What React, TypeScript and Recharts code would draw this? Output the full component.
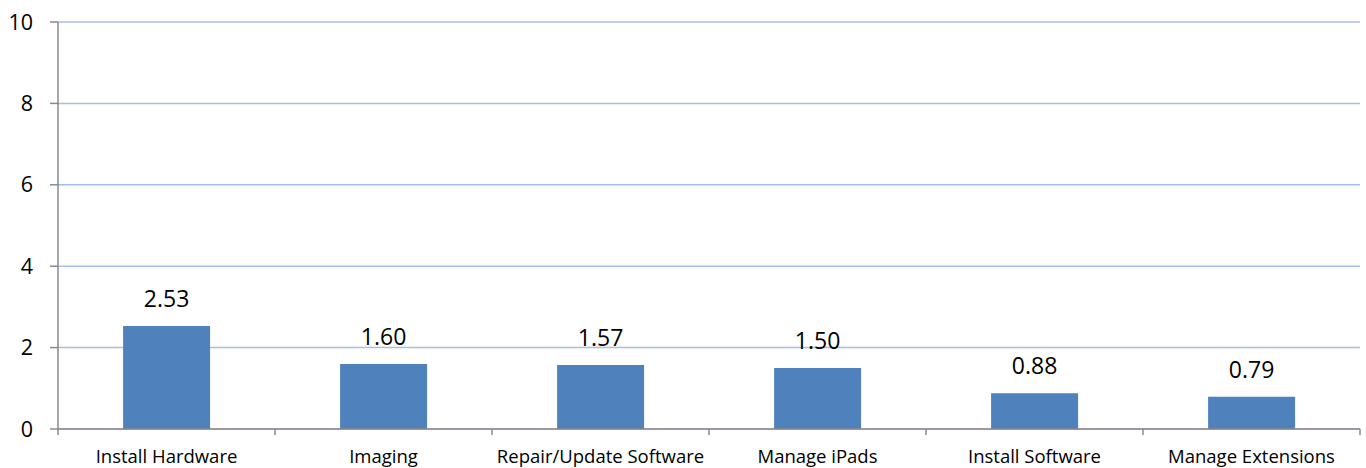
import React from "react";
import { BarChart, Bar, XAxis, YAxis, CartesianGrid, LabelList } from "recharts";

const categories = [
  "Install Hardware",
  "Imaging",
  "Repair/Update Software",
  "Manage iPads",
  "Install Software",
  "Manage Extensions",
];
const values = [2.53, 1.6, 1.57, 1.5, 0.88, 0.79];
const yTicks = [0, 2, 4, 6, 8, 10];

const data = categories.map((name, i) => ({ name, value: values[i] }));

const FONT = "'Open Sans', sans-serif";
const AXIS = "#8a8a8a";

function XTick(props: any) {
  const { x, y, payload, index, visibleTicksCount, width } = props;
  const off =
    payload && typeof payload.offset === "number" && payload.offset > 0
      ? payload.offset
      : width / (visibleTicksCount || 6) / 2;
  const last = index === (visibleTicksCount || 6) - 1;
  return (
    <g>
      <line x1={x - off} x2={x - off} y1={y} y2={y + 6} stroke={AXIS} strokeWidth={1.5} />
      {last && <line x1={x + off} x2={x + off} y1={y} y2={y + 6} stroke={AXIS} strokeWidth={1.5} />}
      <text x={x} y={y + 34} textAnchor="middle" fill="#000" fontSize={18.5} fontFamily={FONT}>
        {payload.value}
      </text>
    </g>
  );
}

export default function App() {
  return (
    <div style={{ position: "absolute", left: 0, top: 0, background: "#fff" }}>
      <BarChart
        width={1366}
        height={468}
        data={data}
        margin={{ top: 22, right: 6, left: 0, bottom: 0 }}
        barCategoryGap="30%"
      >
        <CartesianGrid vertical={false} stroke="#a4bfe8" strokeWidth={1.5} />
        <XAxis
          dataKey="name"
          height={39}
          tickSize={0}
          tickMargin={0}
          tickLine={false}
          axisLine={{ stroke: AXIS, strokeWidth: 1.5 }}
          tick={<XTick />}
          interval={0}
        />
        <YAxis
          width={58}
          domain={[0, 10]}
          ticks={yTicks}
          tickSize={8}
          tickMargin={17}
          tickLine={{ stroke: AXIS, strokeWidth: 1.5 }}
          axisLine={{ stroke: AXIS, strokeWidth: 1.5 }}
          tick={{ fill: "#000", fontSize: 21.5, fontFamily: FONT }}
        />
        <Bar dataKey="value" fill="#4f81bd" isAnimationActive={false}>
          <LabelList
            dataKey="value"
            position="top"
            offset={19}
            formatter={(v: any) => Number(v).toFixed(2)}
            style={{ fill: "#000", fontSize: 23, fontFamily: FONT }}
          />
        </Bar>
      </BarChart>
    </div>
  );
}
